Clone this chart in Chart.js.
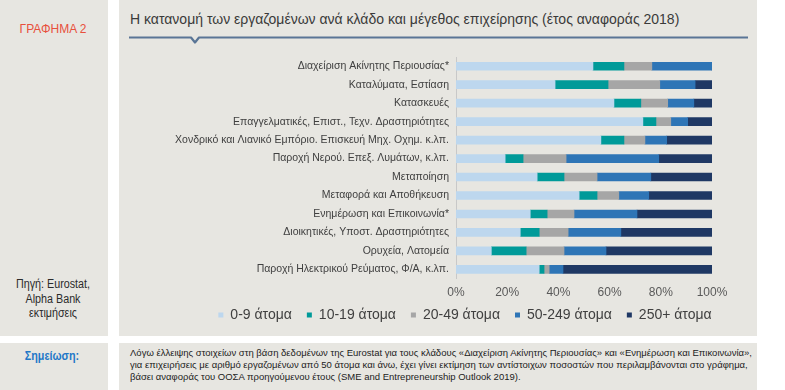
<!DOCTYPE html>
<html>
<head>
<meta charset="utf-8">
<script src="https://cdn.jsdelivr.net/npm/chart.js@4.4.1/dist/chart.umd.min.js"></script>
<style>
  html, body { margin:0; padding:0; width:785px; height:390px; background:#fff; overflow:hidden; }
  body { position:relative; font-family:"Liberation Sans",Arial,sans-serif; }
  .panel { position:absolute; background:#e7e6e1; }
  #wrap { position:absolute; left:0; top:0; width:785px; height:390px; }
  .t { position:absolute; white-space:nowrap; }
</style>
</head>
<body>
<div class="panel" style="left:0;top:0;width:108px;height:336px;"></div>
<div class="panel" style="left:119px;top:0;width:638px;height:336px;"></div>
<div class="panel" style="left:0;top:343px;width:108px;height:47px;"></div>
<div class="panel" style="left:119px;top:343px;width:638px;height:47px;"></div>

<div class="t" style="left:0;width:106px;text-align:center;top:22px;font-size:12px;color:#e8503c;">ΓΡΑΦΗΜΑ 2</div>
<div class="t" style="left:130px;top:11px;font-size:14px;color:#3a3a3a;">Η κατανομή των εργαζομένων ανά κλάδο και μέγεθος επιχείρησης (έτος αναφοράς 2018)</div>
<svg style="position:absolute;left:0;top:0;" width="785" height="60">
  <polyline points="129,37.5 191,37.5 195,42.5 199,37.5 748,37.5" fill="none" stroke="#5a7596" stroke-width="2.2" stroke-linejoin="round"/>
</svg>
<div class="t" style="left:0;width:106px;text-align:center;top:277px;font-size:12.5px;line-height:14.5px;color:#2b2b2b;white-space:normal;transform:scaleX(0.86);transform-origin:53px 0;">Πηγή: Eurostat,<br>Alpha Bank<br>εκτιμήσεις</div>
<div class="t" style="left:0;width:104px;text-align:center;top:349px;font-size:12.5px;font-weight:bold;color:#1f78c8;transform:scaleX(0.86);transform-origin:52px 0;">Σημείωση:</div>
<div class="t" style="left:130px;top:347px;font-size:9.5px;line-height:12px;color:#222;">Λόγω έλλειψης στοιχείων στη βάση δεδομένων της Eurostat για τους κλάδους «Διαχείριση Ακίνητης Περιουσίας» και «Ενημέρωση και Επικοινωνία»,<br>για επιχειρήσεις με αριθμό εργαζομένων από 50 άτομα και άνω, έχει γίνει εκτίμηση των αντίστοιχων ποσοστών που περιλαμβάνονται στο γράφημα,<br>βάσει αναφοράς του ΟΟΣΑ προηγούμενου έτους (SME and Entrepreneurship Outlook 2019).</div>

<div id="wrap"><canvas id="c" width="785" height="390"></canvas></div>

<script>
const categories = [
  "Διαχείριση Ακίνητης Περιουσίας*",
  "Καταλύματα, Εστίαση",
  "Κατασκευές",
  "Επαγγελματικές, Επιστ., Τεχν. Δραστηριότητες",
  "Χονδρικό και Λιανικό Εμπόριο. Επισκευή Μηχ. Οχημ. κ.λπ.",
  "Παροχή Νερού. Επεξ. Λυμάτων, κ.λπ.",
  "Μεταποίηση",
  "Μεταφορά και Αποθήκευση",
  "Ενημέρωση και Επικοινωνία*",
  "Διοικητικές, Υποστ. Δραστηριότητες",
  "Ορυχεία, Λατομεία",
  "Παροχή Ηλεκτρικού Ρεύματος, Φ/Α, κ.λπ."
];
const seriesNames = ["0-9 άτομα", "10-19 άτομα", "20-49 άτομα", "50-249 άτομα", "250+ άτομα"];
const size0_9    = [53.5, 38.7, 61.7, 73.0, 56.6, 19.2, 31.7, 48.1, 29.0, 25.1, 13.8, 32.5];
const size10_19  = [12.1, 20.7, 10.5,  5.1,  9.0,  7.0, 10.5,  7.0,  6.6,  7.4, 13.6,  1.9];
const size20_49  = [10.9, 20.2, 10.5,  5.8,  8.2, 16.8, 12.9,  8.5, 10.5, 11.3, 14.8,  2.0];
const size50_249 = [23.5, 13.8, 10.2,  6.6,  8.5, 36.2, 21.0, 11.7, 24.6, 20.6, 16.4,  5.4];
const size250    = [ 0.0,  6.6,  7.1,  9.5, 17.7, 20.8, 23.9, 24.7, 29.3, 35.6, 41.4, 58.2];
const xTicks = [0, 20, 40, 60, 80, 100];

const colors = ["#bdd7ee", "#009a99", "#a6a6a6", "#2e75b6", "#1f3864"];
const allSeries = [size0_9, size10_19, size20_49, size50_249, size250];

const FONT = "'Liberation Sans',Arial,sans-serif";

const legendPlacer = {
  id: 'legendPlacer',
  afterLayout(chart) {
    const lg = chart.legend;
    if (!lg) return;
    const h = lg.bottom - lg.top;
    lg.top = 293; lg.bottom = 293 + h;
    lg.left = 165; lg.right = 765;
  }
};

new Chart(document.getElementById('c'), {
  type: 'bar',
  data: {
    labels: categories,
    datasets: allSeries.map((d, i) => ({
      label: seriesNames[i],
      data: d,
      backgroundColor: colors[i],
      borderWidth: 0,
      barThickness: 8
    }))
  },
  options: {
    indexAxis: 'y',
    responsive: false,
    animation: false,
    layout: { padding: { left: 119, right: 73, top: 57, bottom: 44 } },
    scales: {
      x: {
        stacked: true,
        min: 0, max: 100,
        afterBuildTicks: s => { s.ticks = xTicks.map(v => ({ value: v })); },
        grid: { display: false, drawTicks: false },
        border: { display: false },
        ticks: { padding: 7, color: '#595959', font: { family: FONT, size: 12 }, callback: v => v + '%' }
      },
      y: {
        stacked: true,
        grid: { display: false, drawTicks: false },
        border: { display: true, color: '#c8c8c8', width: 1 },
        afterFit: s => { s.width = 456 - 119; },
        ticks: { padding: 7, color: '#404040', font: { family: FONT, size: 10.5 }, autoSkip: false }
      }
    },
    plugins: {
      legend: {
        position: 'bottom',
        labels: {
          boxWidth: 5, boxHeight: 5, padding: 15,
          color: '#404040',
          font: { family: FONT, size: 14 }
        }
      },
      tooltip: { enabled: false }
    }
  },
  plugins: [legendPlacer]
});
</script>
</body>
</html>
